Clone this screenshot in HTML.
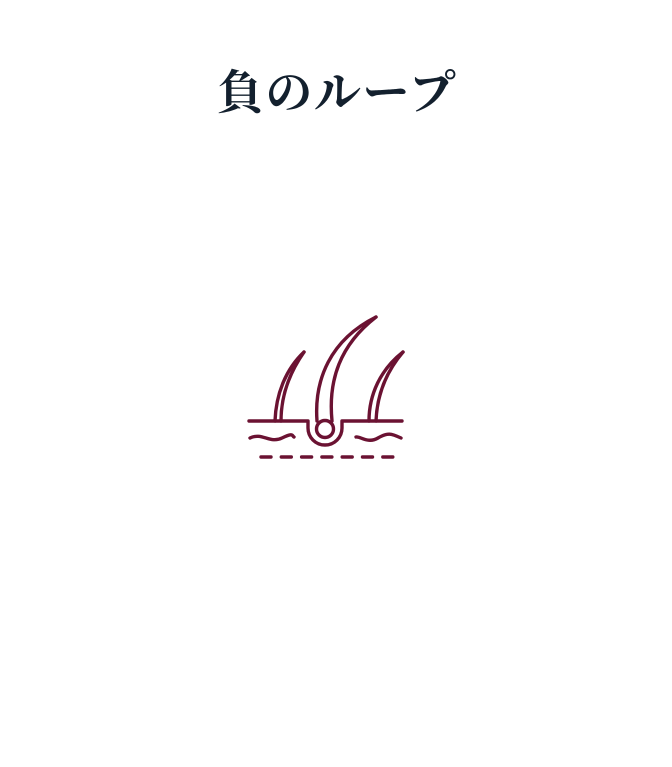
<!DOCTYPE html>
<html><head><meta charset="utf-8"><style>
html,body{margin:0;padding:0;background:#fff;width:672px;height:767px;overflow:hidden}
.t{position:absolute;left:0;width:672px;top:61px;text-align:center;font-family:"Liberation Serif","Noto Serif CJK SC",serif;font-weight:bold;font-size:47px;color:#13202e;line-height:66px;letter-spacing:1.5px;padding-left:2px;box-sizing:border-box}
svg{position:absolute;left:0;top:0}
</style></head><body>
<div class="t">負のループ</div>
<svg width="672" height="767" viewBox="0 0 672 767" fill="none" stroke="#6b1232" stroke-width="3.4" stroke-linecap="round" stroke-linejoin="round">
<path d="M249 421 H308 V428 A17 17 0 0 0 342 428 V421 H402"/>
<circle cx="325" cy="429" r="8.5"/>
<path d="M317 421 C314 380 330 340 376 317"/>
<path d="M332 421 C328 380 340 345 376 317"/>
<path d="M275 421 C276 395 285 370 304 352"/>
<path d="M281 421 C281 395 290 372 304 352"/>
<path d="M369 421 C369 395 380 370 403 352"/>
<path d="M376 421 C377 395 386 372 403 352"/>
<path d="M250 438 C262 432 270 444 282 438 S292 436 294 437"/>
<path d="M356 437 C360 436 368 444 378 438 S392 434 401 438"/>
<path d="M261 457 H393" stroke-dasharray="10 10.3"/>
</svg>
</body></html>
